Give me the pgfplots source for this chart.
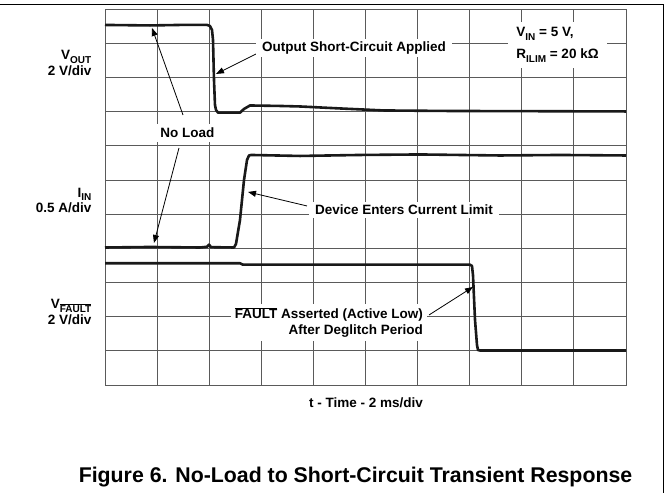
\documentclass[border=0pt]{standalone}
\usepackage{fontspec}
\setmainfont{Liberation Sans}
\usepackage{pgfplots}
\pgfplotsset{compat=1.18}
\usetikzlibrary{arrows.meta}
\newcommand\lab{\fontsize{13.5}{15.5}\selectfont\bfseries}
\newcommand\sub[1]{\raisebox{-3.5pt}{\fontsize{10}{10}\selectfont\bfseries #1}}
\definecolor{gridc}{RGB}{90,90,90}
\definecolor{trace}{RGB}{25,25,25}
\begin{document}
\begin{tikzpicture}
\path[use as bounding box] (0pt,0pt) rectangle (669pt,493pt);
\draw[line width=1.4pt] (0pt,488.5pt) -- (663.3pt,488.5pt) -- (663.3pt,0pt);
\begin{axis}[
  at={(105pt,108pt)}, anchor=south west,
  scale only axis, width=521pt, height=375.7pt,
  xmin=0, xmax=10, ymin=0, ymax=11,
  xtick={0,...,10}, ytick={0,...,11},
  xticklabels={}, yticklabels={},
  major tick length=0pt,
  grid=major,
  grid style={line width=0.9pt, color=gridc},
  axis line style={line width=0.9pt, color=gridc},
  clip=false,
]
% V_OUT
\addplot[line width=2.6pt, color=trace, line join=round] coordinates {
(0,10.542) (0.864,10.527) (1.440,10.542) (1.958,10.542) (2.015,10.512)
(2.054,10.395) (2.073,10.102) (2.092,8.931) (2.111,8.199) (2.131,8.053)
(2.169,7.974) (2.591,7.974) (2.668,8.082) (2.783,8.184) (3.359,8.170)
(3.743,8.155) (4.511,8.097) (5.355,8.038) (6.622,8.023) (7.965,8.018) (10,8.009)};
% I_IN
\addplot[line width=2.6pt, color=trace, line join=round] coordinates {
(0,4.026) (0.864,4.041) (1.823,4.026) (1.958,4.046) (1.996,4.110) (2.035,4.036)
(2.476,4.026) (2.514,4.129) (2.591,4.832) (2.668,6.003) (2.726,6.589)
(2.764,6.720) (2.803,6.735) (3.743,6.706) (4.894,6.735) (6.046,6.750)
(7.582,6.720) (8.733,6.735) (10,6.720)};
% V_FAULT
\addplot[line width=2.6pt, color=trace, line join=round] coordinates {
(0,3.564) (2.591,3.564) (2.649,3.523) (7.006,3.523) (7.044,3.485)
(7.063,3.221) (7.102,1.903) (7.140,1.171) (7.159,1.025) (7.198,1.010) (10,1.010)};

% annotations
\draw[line width=0.8pt, -{Triangle[length=8pt,width=6pt]}] (axis cs:2.937,9.722) -- (axis cs:2.131,9.107);
\node[fill=white, inner xsep=6pt, inner ysep=3pt, font=\lab] at (axis cs:4.779,9.868) {Output Short-Circuit Applied};

\node[fill=white, inner xsep=8pt, inner ysep=6pt, align=left, font=\fontsize{13.5}{22}\selectfont\bfseries] at (axis cs:8.685,9.956) {V\sub{IN} = 5 V,\\R\sub{ILIM} = 20 kΩ};

\draw[line width=0.8pt, -{Triangle[length=8pt,width=6pt]}] (axis cs:3.877,5.242) -- (axis cs:2.745,5.652);
\node[fill=white, inner xsep=6pt, inner ysep=3pt, font=\lab] at (axis cs:5.739,5.12) {Device Enters Current Limit};

\draw[line width=0.8pt, -{Triangle[length=8pt,width=6pt]}] (axis cs:1.497,7.906) -- (axis cs:0.902,10.454);
\draw[line width=0.8pt, -{Triangle[length=8pt,width=6pt]}] (axis cs:1.420,6.940) -- (axis cs:0.940,4.158);
\node[fill=white, inner xsep=4pt, inner ysep=4pt, font=\lab] at (axis cs:1.583,7.379) {No Load};

\draw[line width=0.8pt, -{Triangle[length=8pt,width=6pt]}] (axis cs:6.219,2.050) -- (axis cs:7.063,2.870);
\node[fill=white, inner xsep=4pt, inner ysep=4pt, align=right, font=\lab] at (axis cs:4.299,1.830) {$\overline{\mbox{FAULT}}$ Asserted (Active Low)\\After Deglitch Period};

% channel labels
\node[anchor=east, inner sep=0pt, align=right, font=\lab] at (axis cs:-0.259,9.43) {V\sub{OUT}\\2 V/div};
\node[anchor=east, inner sep=0pt, align=right, font=\lab] at (axis cs:-0.259,5.40) {I\sub{IN}\\0.5 A/div};
\node[anchor=east, inner sep=0pt, align=right, font=\lab] at (axis cs:-0.259,2.14) {V\sub{$\overline{\mbox{FAULT}}$}\\2 V/div};

\node[font=\lab] at (axis cs:5.010,-0.512) {t - Time - 2 ms/div};
\node[font=\fontsize{21.3}{25}\selectfont\bfseries] at (axis cs:4.808,-2.70) {Figure 6. No-Load to Short-Circuit Transient Response};
\end{axis}
\end{tikzpicture}
\end{document}
